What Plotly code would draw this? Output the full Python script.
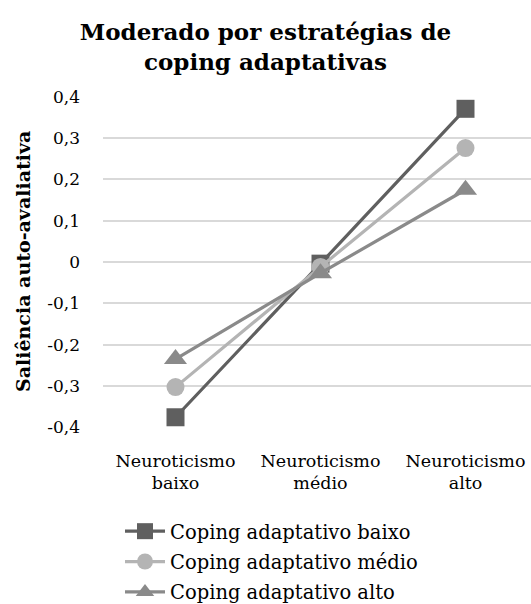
import plotly.graph_objects as go

categories = ["Neuroticismo<br>baixo", "Neuroticismo<br>médio", "Neuroticismo<br>alto"]
series_names = ["Coping adaptativo baixo", "Coping adaptativo médio", "Coping adaptativo alto"]
coping_baixo = [-0.376, -0.004, 0.371]
coping_medio = [-0.303, -0.012, 0.276]
coping_alto = [-0.235, -0.027, 0.175]
y_tickvals = [0.4, 0.3, 0.2, 0.1, 0, -0.1, -0.2, -0.3, -0.4]
y_ticktext = ["0,4", "0,3", "0,2", "0,1", "0", "-0,1", "-0,2", "-0,3", "-0,4"]

colors = ["#5f5f5f", "#b4b4b4", "#8a8a8a"]
symbols = ["square", "circle", "triangle-up"]
sizes = [18, 18, 20]
values = [coping_baixo, coping_medio, coping_alto]

FONT = "DejaVu Serif"
fig = go.Figure()
xs = list(range(len(categories)))
for i, (name, vals, c, s, sz) in enumerate(zip(series_names, values, colors, symbols, sizes)):
    fig.add_trace(go.Scatter(
        x=xs, y=vals, name=name, mode="lines+markers", legendgroup=f"g{i}",
        line=dict(color=c, width=3.2),
        marker=dict(symbol=s, size=sz, color=c),
    ))

W, H = 531, 604
left, top, bottom = 103, 96, 428
fig.update_layout(
    template="none",
    width=W, height=H,
    margin=dict(l=left, r=0, t=top, b=H - bottom, pad=0),
    paper_bgcolor="white", plot_bgcolor="white",
    font=dict(family=FONT, color="#000000", size=15),
    title=dict(text="<b>Moderado por estratégias de<br>coping adaptativas</b>",
               x=0.5, xanchor="center", xref="container", yref="container",
               y=1 - 40 / H, yanchor="middle",
               font=dict(family=FONT, size=23, color="#000000")),
    xaxis=dict(range=[-0.5, -0.5 + (W - left) / 145.0], tickvals=xs, ticktext=categories,
               showgrid=False, zeroline=False, showline=False, ticks="", automargin=False,
               ticklabelstandoff=20,
               tickfont=dict(size=17.5, family=FONT, color="#000000")),
    yaxis=dict(range=[-0.402, 0.402], tickvals=y_tickvals, ticktext=y_ticktext,
               showgrid=True, gridcolor="#d9d9d9", gridwidth=2, zeroline=False,
               showline=False, ticks="", ticklabelstandoff=22, automargin=False,
               tickfont=dict(size=17, family=FONT, color="#000000")),
    legend=dict(x=(120 - left) / (W - left), xanchor="left",
                yref="container", y=(H - 512) / H, yanchor="top",
                orientation="v", font=dict(size=19.5, family=FONT, color="#000000"),
                bgcolor="rgba(0,0,0,0)", tracegroupgap=2, itemwidth=40),
    showlegend=True,
)
fig.add_annotation(text="<b>Saliência auto-avaliativa</b>", textangle=-90,
                   xref="paper", yref="paper", x=(23 - left) / (W - left), y=0.5,
                   xanchor="center", yanchor="middle", showarrow=False,
                   font=dict(family=FONT, size=19, color="#000000"))
fig.write_html("out.html", post_script="document.body.style.margin='0';",
               config={"displayModeBar": False})
